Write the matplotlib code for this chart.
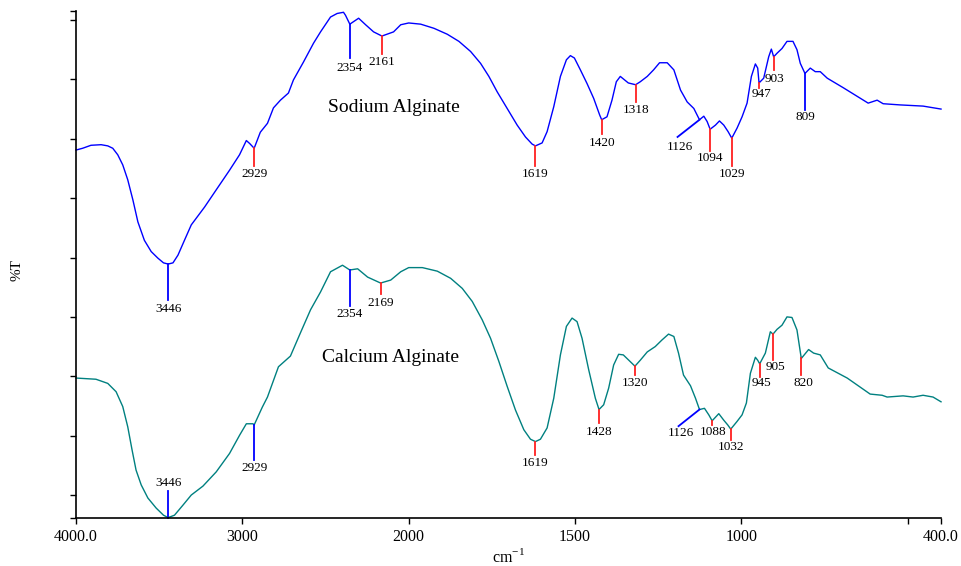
# -*- coding: utf-8 -*-
"""
FTIR spectra of sodium alginate and calcium alginate
"""
import numpy as np
import matplotlib
matplotlib.use("Agg")
import matplotlib.pyplot as plt

# ---- spectra (wavenumber in cm-1, %T) ----
na_wn = [4000, 3960, 3910, 3849, 3809, 3779, 3749, 3719, 3689, 3658, 3628, 3589,
         3548, 3508, 3474, 3446, 3417, 3387, 3348, 3307, 3267, 3227, 3157, 3077,
         3017, 2976, 2956, 2929, 2892, 2849, 2813, 2771, 2723, 2693, 2633, 2572,
         2530, 2470, 2430, 2392, 2380, 2354, 2301, 2259, 2211, 2161, 2091, 2048,
         2000, 1964, 1924, 1884, 1849, 1814, 1784, 1759, 1734, 1704, 1674, 1649,
         1629, 1619, 1599, 1584, 1564, 1544, 1526, 1514, 1502, 1484, 1464, 1444,
         1426, 1420, 1404, 1389, 1376, 1364, 1340, 1318, 1304, 1283, 1264, 1246,
         1223, 1203, 1183, 1163, 1143, 1126, 1113, 1103, 1094, 1078, 1066, 1053,
         1040, 1029, 1013, 998, 983, 970, 958, 951, 947, 933, 918, 910, 903, 893,
         878, 863, 845, 833, 823, 809, 793, 778, 763, 742, 694, 619, 592, 574,
         523, 454, 400]
na_T = [68.1, 68.4, 68.9, 69.0, 68.8, 68.4, 67.3, 65.6, 63.1, 59.7, 56.0, 52.9,
        51.0, 49.9, 49.1, 48.9, 49.1, 50.4, 52.9, 55.5, 57.0, 58.5, 61.4, 64.7,
        67.3, 69.7, 69.2, 68.4, 71.1, 72.6, 75.2, 76.5, 77.7, 79.9, 82.9, 86.1,
        88.0, 90.5, 91.1, 91.3, 90.8, 89.3, 90.3, 89.2, 88.0, 87.3, 88.0, 89.2,
        89.5, 89.3, 88.6, 87.6, 86.4, 84.7, 82.7, 80.5, 77.9, 75.1, 72.3, 70.3,
        69.1, 68.8, 69.3, 71.2, 75.4, 80.5, 83.3, 84.0, 83.6, 81.6, 79.3, 76.8,
        74.0, 73.2, 73.7, 76.5, 79.6, 80.5, 79.4, 79.1, 79.6, 80.5, 81.6, 82.8,
        82.8, 81.6, 78.2, 76.2, 75.1, 73.2, 73.8, 72.9, 71.6, 72.3, 73.0, 72.3,
        71.2, 70.1, 71.8, 73.7, 76.0, 80.5, 82.6, 81.9, 79.4, 80.2, 83.8, 85.1, 83.8, 84.4,
        85.2, 86.4, 86.4, 85.0, 82.7, 81.0, 81.9, 81.3, 81.3, 80.2, 78.6, 76.0, 76.5, 75.9,
        75.7, 75.5, 75.0]

ca_wn = [4000, 3880, 3809, 3759, 3719, 3689, 3663, 3639, 3608, 3568, 3518, 3474,
         3446, 3408, 3357, 3307, 3237, 3157, 3077, 3016, 2976, 2936, 2929, 2880,
         2849, 2783, 2711, 2651, 2590, 2530, 2470, 2398, 2354, 2307, 2247, 2169,
         2108, 2048, 2000, 1959, 1914, 1874, 1839, 1809, 1779, 1754, 1729, 1704,
         1679, 1654, 1634, 1619, 1604, 1584, 1564, 1544, 1526, 1509, 1494, 1479,
         1459, 1439, 1428, 1414, 1399, 1384, 1369, 1355, 1320, 1304, 1283, 1259,
         1239, 1219, 1203, 1189, 1174, 1153, 1138, 1126, 1111, 1098, 1088, 1068,
         1053, 1041, 1032, 1013, 998, 985, 973, 958, 951, 945, 928, 913, 905, 893,
         878, 863, 848, 833, 820, 798, 783, 763, 739, 682, 613, 577, 562, 514,
         484, 454, 424, 400]
ca_T = [29.7, 29.5, 28.8, 27.4, 24.9, 21.5, 17.6, 14.2, 11.7, 9.5, 7.8, 6.6,
        6.2, 6.6, 8.3, 10.0, 11.5, 13.9, 17.0, 20.1, 22.0, 22.0, 21.8, 24.8,
        26.5, 31.6, 33.4, 37.3, 41.2, 44.2, 47.6, 48.7, 47.9, 48.1, 46.7, 45.7,
        46.2, 47.6, 48.3, 48.3, 47.7, 46.5, 44.8, 42.6, 39.5, 36.4, 32.5, 28.3,
        24.3, 21.0, 19.4, 19.0, 19.4, 21.3, 26.3, 33.6, 38.4, 39.8, 39.2, 36.4,
        31.1, 26.3, 24.4, 25.2, 28.0, 31.9, 33.7, 33.6, 31.7, 32.7, 34.1, 35.0,
        36.1, 37.1, 36.7, 33.9, 30.2, 28.4, 26.3, 24.4, 24.6, 23.5, 22.5, 23.7,
        22.6, 21.8, 21.1, 22.4, 23.5, 25.5, 30.5, 33.2, 32.7, 32.1, 33.9, 37.5, 37.1, 37.9,
        38.6, 40.0, 39.9, 37.8, 33.0, 34.5, 33.9, 33.6, 31.4, 29.7, 27.0, 26.8, 26.5, 26.7,
        26.5, 26.8, 26.5, 25.7]

# marked bands
na_peaks = [3446, 2929, 2354, 2161, 1619, 1420, 1318, 1126, 1094, 1029, 947, 903, 809]
ca_peaks = [3446, 2929, 2354, 2169, 1619, 1428, 1320, 1126, 1088, 1032, 945, 905, 820]

# marker layout: colour, end of marker line (x, y), label centre (x, y)
na_marks = [('b', None, 42.9, None, 41.3),
            ('r', None, 65.4, None, 64.1),
            ('b', None, 83.6, None, 81.9),
            ('r', None, 84.3, None, 82.9),
            ('r', None, 65.4, None, 64.1),
            ('r', None, 70.8, None, 69.3),
            ('r', None, 76.2, None, 74.8),
            ('b', 1192, 70.3, 1186, 68.6),
            ('r', None, 67.9, None, 66.8),
            ('r', None, 65.4, None, 64.1),
            ('r', None, 78.6, 940, 77.5),
            ('r', None, 81.6, 900, 80.1),
            ('b', None, 74.8, None, 73.7)]
ca_marks = [('b', None, 10.7, None, 12.1),
            ('b', None, 15.9, None, 14.6),
            ('b', None, 41.8, None, 40.5),
            ('r', None, 43.9, None, 42.3),
            ('r', None, 16.7, None, 15.4),
            ('r', None, 22.1, None, 20.6),
            ('r', None, 30.2, None, 28.9),
            ('b', 1189, 21.6, 1183, 20.5),
            ('r', None, 21.8, 1084, 20.6),
            ('r', None, 19.3, 1030, 18.1),
            ('r', None, 29.9, 940, 28.9),
            ('r', None, 32.7, 898, 31.6),
            ('r', None, 30.2, 814, 28.9)]

xticks = [4000, 3000, 2000, 1500, 1000, 500, 400]
xticklabels = ['4000.0', '3000', '2000', '1500', '1000', '', '400.0']
colors = {'b': '#0000ff', 'r': '#ff2020'}


def fwd(x):
    # half scale above 2000 cm-1
    x = np.asarray(x, dtype=float)
    return np.where(x > 2000, 2000 + (x - 2000) / 2.0, x)


def inv(u):
    u = np.asarray(u, dtype=float)
    return np.where(u > 2000, 2000 + (u - 2000) * 2.0, u)


def mark(ax, wn, T, peaks, marks):
    for p, (c, xe, ye, xl, yl) in zip(peaks, marks):
        yp = np.interp(p, wn[::-1], T[::-1])
        if xe is None:
            xe = p
        if xl is None:
            xl = p
        ax.plot([p, xe], [yp, ye], color=colors[c], lw=1.3, clip_on=False)
        ax.text(xl, yl, str(p), ha='center', va='center', fontsize=9.5)


if __name__ == "__main__":
    plt.rcParams['font.family'] = 'Liberation Serif'

    fig = plt.figure(figsize=(9.62, 5.66), dpi=100)
    ax = fig.add_axes([0.079, 0.0848, 0.8992, 0.8956])

    ax.set_xscale('function', functions=(fwd, inv))
    ax.set_xlim(4000, 400)
    ax.set_ylim(6.13, 91.5)

    na_wn = np.array(na_wn)
    na_T = np.array(na_T)
    ca_wn = np.array(ca_wn)
    ca_T = np.array(ca_T)

    ax.plot(na_wn, na_T, color='#0000ff', lw=1.0, clip_on=False)
    ax.plot(ca_wn, ca_T, color='#008080', lw=1.0, clip_on=False)

    mark(ax, na_wn, na_T, na_peaks, na_marks)
    mark(ax, ca_wn, ca_T, ca_peaks, ca_marks)

    ax.text(2090, 75.2, 'Sodium Alginate', ha='center', va='center', fontsize=14)
    ax.text(2108, 33.2, 'Calcium Alginate', ha='center', va='center', fontsize=14)

    ax.set_xticks(xticks)
    ax.set_xticklabels(xticklabels)
    ax.set_yticks([6.13, 10, 20, 30, 40, 50, 60, 70, 80, 90, 91.5])
    ax.set_yticklabels([])
    ax.minorticks_off()
    ax.tick_params(axis='both', length=4, width=1, direction='out', labelsize=11.5, pad=4)

    for s in ['top', 'right']:
        ax.spines[s].set_visible(False)
    for s in ['left', 'bottom']:
        ax.spines[s].set_linewidth(1.2)

    ax.set_xlabel('cm$^{\\mathregular{-1}}$', fontsize=11.5, labelpad=2)
    fig.text(17 / 962, 1 - 270 / 566, '%T', rotation=90, ha='center', va='center',
             fontsize=11)

    fig.savefig('out.png', dpi=100)
